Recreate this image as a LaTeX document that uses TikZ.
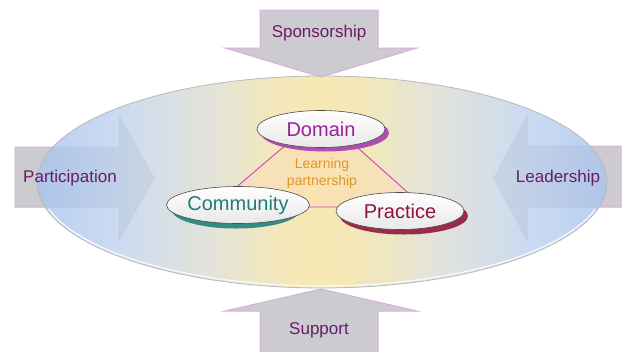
\documentclass[tikz,border=0pt]{standalone}
\usepackage{fontspec}
\setmainfont{Liberation Sans}
\usetikzlibrary{shapes.geometric}
\definecolor{lblpurple}{HTML}{6A1B6A}
\definecolor{domcol}{HTML}{9C1F9C}
\definecolor{comcol}{HTML}{1F7D74}
\definecolor{praccol}{HTML}{8E1538}
\definecolor{learncol}{HTML}{E0962A}
\definecolor{trilinecol}{HTML}{D040C0}
\definecolor{arrowfill}{HTML}{CBCBD0}
\definecolor{arrowedge}{HTML}{D8B0D8}
\definecolor{ellA}{HTML}{A8C4EE}
\definecolor{ellB}{HTML}{BED2EE}
\definecolor{ellC}{HTML}{DCDDD2}
\definecolor{ellD}{HTML}{F0E2AA}
\definecolor{ellE}{HTML}{F5E4A0}
\definecolor{rimcol}{HTML}{F4F8FE}
\pgfdeclarehorizontalshading{bigellshade}{100bp}{color(0bp)=(ellA); color(25bp)=(ellA); color(32bp)=(ellB); color(40bp)=(ellC); color(46bp)=(ellD); color(50bp)=(ellE); color(54bp)=(ellD); color(60bp)=(ellC); color(68bp)=(ellB); color(75bp)=(ellA); color(100bp)=(ellA)}
\tikzset{
  bigarrow/.style={fill=arrowfill, draw=arrowedge, line width=1pt, line join=miter},
  arrowlabel/.style={font=\fontsize{17}{19}\selectfont, text=lblpurple},
  innerell/.style={ellipse, draw=gray!60!black, line width=0.6pt, top color=white, bottom color=gray!18,
    minimum width=128, minimum height=37, inner sep=0pt, font=\fontsize{20}{22}\selectfont},
  shadowell/.style={ellipse, minimum width=128, minimum height=37, inner sep=0pt},
}
\begin{document}
\begin{tikzpicture}[x=1pt,y=-1pt]
\useasboundingbox (0,0) rectangle (626,351);
\fill[white] (0,0) rectangle (626,351);
% side arrows (behind the ellipse)
\draw[bigarrow] (15,147) -- (119,147) -- (119,116) -- (154,178) -- (119,240) -- (119,207) -- (15,207) -- cycle;
\draw[bigarrow] (621,146) -- (527,146) -- (527,116) -- (494,178) -- (527,240) -- (527,207) -- (621,207) -- cycle;
% big ellipse
\shade[shading=bigellshade, opacity=0.8] (322,182) ellipse [x radius=285, y radius=106];
\draw[gray!55, line width=0.8pt] (322,182) ellipse [x radius=285, y radius=106];
\draw[rimcol, line width=1.4pt] (322,182) ++(165:283 and 104) arc [start angle=165, end angle=15, x radius=283, y radius=104];
% top and bottom arrows
\draw[bigarrow] (260,10) -- (378,10) -- (378,48) -- (417,48) -- (321,77) -- (225,48) -- (260,48) -- cycle;
\draw[bigarrow] (260,356) -- (260,311) -- (225,311) -- (321,289) -- (417,311) -- (378,311) -- (378,356);
% arrow labels
\node[arrowlabel] (spons) at (319,33) {Sponsorship};
\node[arrowlabel] (partic) at (70,178) {Participation};
\node[arrowlabel] (leader) at (558,178) {Leadership};
\node[arrowlabel] (support) at (319,330) {Support};
% learning partnership triangle
\coordinate (tA) at (321,115);
\coordinate (tB) at (213,207);
\coordinate (tC) at (424,207);
\fill[orange!30, opacity=0.4] (tA) -- (tB) -- (tC) -- cycle;
\draw[trilinecol, line width=0.9pt] (tA) -- (tB) -- (tC) -- cycle;
\node[text=learncol, align=center, font=\fontsize{14}{17}\selectfont] (learn) at (322,173) {Learning\\partnership};
% shadows of inner ellipses
\node[shadowell, fill=domcol!80] (domsh) at (325,133) {};
\node[shadowell, fill=comcol!90] (comsh) at (236,210) {};
\node[shadowell, fill=praccol!90] (pracsh) at (404,216) {};
% inner ellipses
\node[innerell, text=domcol] (domain) at (321,129) {Domain};
\node[innerell, text=comcol] (community) at (238,205) {Community};
\node[innerell, text=praccol] (practice) at (400,211) {Practice};
\end{tikzpicture}
\end{document}
